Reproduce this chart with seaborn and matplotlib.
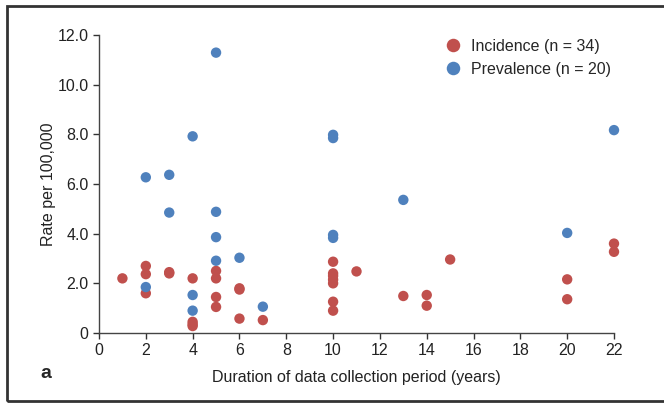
import matplotlib
matplotlib.use("Agg")
import matplotlib.pyplot as plt
import seaborn as sns
import pandas as pd
from matplotlib.patches import Rectangle

inc_x = [1, 2, 2, 2, 3, 3, 4, 4, 4, 4, 5, 5, 5, 5, 6, 6, 6, 7,
         10, 10, 10, 10, 10, 10, 10, 11, 13, 14, 14, 15, 20, 20, 22, 22]
inc_y = [2.2, 2.7, 2.37, 1.6, 2.45, 2.4, 2.2, 0.45, 0.35, 0.28, 2.5, 2.2, 1.45, 1.05,
         1.8, 1.75, 0.58, 0.52,
         2.87, 2.4, 2.3, 2.15, 2.0, 1.26, 0.9, 2.48, 1.49, 1.53, 1.1, 2.96, 2.16, 1.36, 3.6, 3.27]
prev_x = [2, 2, 3, 3, 4, 4, 4, 5, 5, 5, 5, 6, 7, 10, 10, 10, 10, 13, 20, 22]
prev_y = [6.27, 1.85, 6.37, 4.85, 7.92, 1.53, 0.9, 11.29, 4.88, 3.86, 2.91, 3.03, 1.06,
          7.98, 7.85, 3.95, 3.83, 5.36, 4.03, 8.17]
labels = ["Incidence (n = 34)", "Prevalence (n = 20)"]
colors = ["#c0504d", "#4f81bd"]

df = pd.concat([
    pd.DataFrame({"x": inc_x, "y": inc_y, "group": labels[0]}),
    pd.DataFrame({"x": prev_x, "y": prev_y, "group": labels[1]}),
])

sns.set_style("ticks")
plt.rcParams['font.family'] = ['Liberation Sans Narrow', 'Liberation Sans', 'DejaVu Sans']

fig = plt.figure(figsize=(6.64, 4.04), dpi=100)
ax = fig.add_axes([99/664, 1 - 333/404, (614 - 99)/664, (333 - 35)/404])

sns.scatterplot(data=df, x="x", y="y", hue="group", palette=colors, s=56,
                edgecolor="none", ax=ax, legend=True)
for coll in ax.collections:
    coll.set_clip_on(False)

ax.set_xlim(0, 22)
ax.set_ylim(0, 12)
ax.set_xticks(range(0, 23, 2))
ax.set_yticks(range(0, 13, 2))
ax.set_yticklabels(["0"] + [f"{v:.1f}" for v in range(2, 13, 2)])
ax.tick_params(labelsize=11.5, colors="#333333", length=4, width=1, labelcolor="#222222")
for sp in ["top", "right"]:
    ax.spines[sp].set_visible(False)
for sp in ["left", "bottom"]:
    ax.spines[sp].set_color("#444444")
    ax.spines[sp].set_linewidth(1)
ax.set_xlabel("Duration of data collection period (years)", fontsize=11.5, color="#222222", labelpad=8)
ax.set_ylabel("Rate per 100,000", fontsize=11.5, color="#222222", labelpad=1)

leg = ax.legend(loc="upper right", bbox_to_anchor=(1.015, 1.025), frameon=False,
                fontsize=11.5, handletextpad=0.1, labelspacing=0.5, markerscale=1.3,
                borderaxespad=0.3)

fig.text(40/664, 1 - 373/404, "a", fontsize=14, fontweight="bold", ha="left", va="center",
         family=["Liberation Sans", "DejaVu Sans"])

fig.patches.append(Rectangle((7/664, 1 - 401/404), 1.0, (401 - 6)/404, transform=fig.transFigure,
                             fill=False, edgecolor="#333333", linewidth=2))

fig.savefig("out.png", dpi=100)
